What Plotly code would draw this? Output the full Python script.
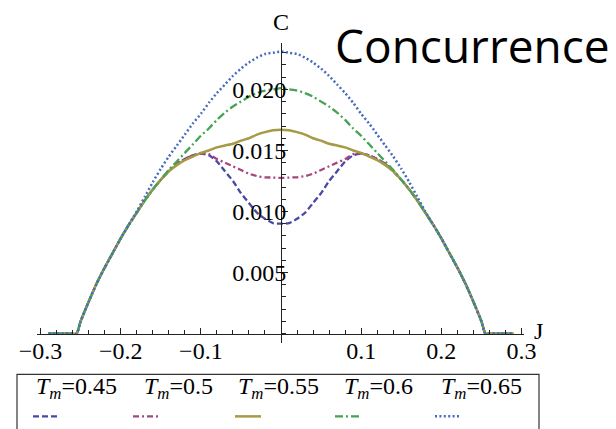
import plotly.graph_objects as go

# ---- data -------------------------------------------------------------
J = [-0.29, -0.28, -0.27, -0.26, -0.255, -0.25, -0.24, -0.23, -0.22, -0.21,
     -0.20, -0.19, -0.18, -0.17, -0.16, -0.15, -0.14, -0.13, -0.12, -0.11,
     -0.10, -0.09, -0.08, -0.07, -0.06, -0.05, -0.04, -0.03, -0.02, -0.01,
     0.0,
     0.01, 0.02, 0.03, 0.04, 0.05, 0.06, 0.07, 0.08, 0.09, 0.10,
     0.11, 0.12, 0.13, 0.14, 0.15, 0.16, 0.17, 0.18, 0.19, 0.20,
     0.21, 0.22, 0.23, 0.24, 0.25, 0.255, 0.26, 0.27, 0.28, 0.29]

C_045 = [0, 0, 0, 0, 0, 0.0010, 0.0026, 0.0041, 0.0054, 0.0066,
         0.0078, 0.0089, 0.0099, 0.0109, 0.0118, 0.0126, 0.0133, 0.0139, 0.0143, 0.0146,
         0.01475, 0.0146, 0.0141, 0.0133, 0.0125, 0.0115, 0.0107, 0.0099, 0.0094, 0.00905,
         0.0090,
         0.00905, 0.0094, 0.0099, 0.0107, 0.0115, 0.0125, 0.0133, 0.0141, 0.0146, 0.01475,
         0.0146, 0.0143, 0.0139, 0.0133, 0.0126, 0.0118, 0.0109, 0.0099, 0.0089, 0.0078,
         0.0066, 0.0054, 0.0041, 0.0026, 0.0010, 0, 0, 0, 0, 0]

C_050 = [0, 0, 0, 0, 0, 0.0010, 0.0026, 0.0041, 0.0054, 0.0066,
         0.0078, 0.0089, 0.0099, 0.0109, 0.0118, 0.0126, 0.0133, 0.0139, 0.0143, 0.0146,
         0.01475, 0.0147, 0.0143, 0.0140, 0.0137, 0.0134, 0.0131, 0.0129, 0.0128, 0.01278,
         0.01275,
         0.01278, 0.0128, 0.0129, 0.0131, 0.0134, 0.0137, 0.0140, 0.0143, 0.0147, 0.01475,
         0.0146, 0.0143, 0.0139, 0.0133, 0.0126, 0.0118, 0.0109, 0.0099, 0.0089, 0.0078,
         0.0066, 0.0054, 0.0041, 0.0026, 0.0010, 0, 0, 0, 0, 0]

C_055 = [0, 0, 0, 0, 0, 0.0010, 0.0026, 0.0041, 0.0054, 0.0066,
         0.0078, 0.0089, 0.0099, 0.0109, 0.0118, 0.0126, 0.0133, 0.0138, 0.0142, 0.0145,
         0.0148, 0.0150, 0.01525, 0.0154, 0.01555, 0.0158, 0.0160, 0.0163, 0.0165, 0.01665,
         0.0167,
         0.01665, 0.0165, 0.0163, 0.0160, 0.0158, 0.01555, 0.0154, 0.01525, 0.0150, 0.0148,
         0.0145, 0.0142, 0.0138, 0.0133, 0.0126, 0.0118, 0.0109, 0.0099, 0.0089, 0.0078,
         0.0066, 0.0054, 0.0041, 0.0026, 0.0010, 0, 0, 0, 0, 0]

C_060 = [0, 0, 0, 0, 0, 0.0010, 0.0026, 0.0041, 0.0054, 0.0066,
         0.0078, 0.0089, 0.0099, 0.0109, 0.0118, 0.0126, 0.0134, 0.0141, 0.0148, 0.0155,
         0.0162, 0.0168, 0.0175, 0.0181, 0.0186, 0.0190, 0.0194, 0.0197, 0.0199, 0.0200,
         0.0201,
         0.0200, 0.0199, 0.0197, 0.0194, 0.0190, 0.0186, 0.0181, 0.0175, 0.0168, 0.0162,
         0.0155, 0.0148, 0.0141, 0.0134, 0.0126, 0.0118, 0.0109, 0.0099, 0.0089, 0.0078,
         0.0066, 0.0054, 0.0041, 0.0026, 0.0010, 0, 0, 0, 0, 0]

C_065 = [0, 0, 0, 0, 0, 0.0010, 0.0026, 0.0041, 0.0054, 0.0066,
         0.0078, 0.0089, 0.0100, 0.0112, 0.0124, 0.0135, 0.0145, 0.0154, 0.0163, 0.0172,
         0.0180, 0.0189, 0.0197, 0.0204, 0.0211, 0.0217, 0.0222, 0.0226, 0.0229, 0.0230,
         0.0231,
         0.0230, 0.0229, 0.0226, 0.0222, 0.0217, 0.0211, 0.0204, 0.0197, 0.0189, 0.0180,
         0.0172, 0.0163, 0.0154, 0.0145, 0.0135, 0.0124, 0.0112, 0.0100, 0.0089, 0.0078,
         0.0066, 0.0054, 0.0041, 0.0026, 0.0010, 0, 0, 0, 0, 0]

T_LABELS = ["0.45", "0.5", "0.55", "0.6", "0.65"]
SERIES = [C_045, C_050, C_055, C_060, C_065]

X_TICKS = [-0.3, -0.2, -0.1, 0.1, 0.2, 0.3]
X_TICK_TEXT = ["\u22120.3", "\u22120.2", "\u22120.1", "0.1", "0.2", "0.3"]
Y_TICKS = [0.005, 0.010, 0.015, 0.020]
Y_TICK_TEXT = ["0.005", "0.010", "0.015", "0.020"]

# ---- styles -----------------------------------------------------------
COLORS = ["#4848a8", "#a8457e", "#a69a45", "#45a355", "#476cbf"]
DASHES = ["6px,3px", "6px,3px,2px,3px", "solid", "8px,3px,2px,3px", "2px,2.4px"]
WIDTHS = [2.3, 2.3, 2.5, 2.3, 2.5]

W, H = 616, 429
L, R, T, B = 37, 524, 43, 342.7          # plot-area edges in px
X_RANGE = [-0.3044, 0.3031]
Y_RANGE = [-0.00077, 0.0238]
SERIF = "Liberation Serif"
TICK_SIZE = 24


def px_x(px):
    return (px - L) / (R - L)


def px_y(py):
    return (B - py) / (B - T)


fig = go.Figure()
for vals, col, dash, wd in zip(SERIES, COLORS, DASHES, WIDTHS):
    fig.add_trace(go.Scatter(
        x=J, y=vals, mode="lines",
        line=dict(color=col, dash=dash, width=wd, shape="spline", smoothing=0.6),
        showlegend=False, hoverinfo="skip"))

x_pos = (0 - Y_RANGE[0]) / (Y_RANGE[1] - Y_RANGE[0])
y_pos = (0 - X_RANGE[0]) / (X_RANGE[1] - X_RANGE[0])

fig.update_layout(
    width=W, height=H,
    margin=dict(l=L, r=W - R, t=T, b=H - B),
    paper_bgcolor="white", plot_bgcolor="white",
    font=dict(family=SERIF, size=TICK_SIZE, color="black"),
    xaxis=dict(
        range=X_RANGE, anchor="free", position=x_pos,
        showgrid=False, zeroline=False,
        showline=True, linecolor="#222", linewidth=1,
        tickmode="array", tickvals=X_TICKS, ticktext=X_TICK_TEXT,
        ticks="inside", ticklen=6, tickwidth=1, tickcolor="#222",
        ticklabelstandoff=-4,
        minor=dict(tickmode="linear", tick0=0, dtick=0.02, ticks="inside",
                   ticklen=3.5, tickwidth=1, tickcolor="#222"),
        tickfont=dict(family=SERIF, size=TICK_SIZE),
    ),
    yaxis=dict(
        range=Y_RANGE, anchor="free", position=y_pos,
        showgrid=False, zeroline=False,
        showline=True, linecolor="#222", linewidth=1,
        tickmode="array", tickvals=Y_TICKS, ticktext=Y_TICK_TEXT,
        ticks="inside", ticklen=6, tickwidth=1, tickcolor="#222",
        ticklabelstandoff=-10,
        minor=dict(tickmode="linear", tick0=0, dtick=0.001, ticks="inside",
                   ticklen=3.5, tickwidth=1, tickcolor="#222"),
        tickfont=dict(family=SERIF, size=TICK_SIZE),
    ),
)


def label(text, x, y, size, family=SERIF, xanchor="center"):
    return dict(text=text, x=px_x(x), y=px_y(y), xref="paper", yref="paper",
                xanchor=xanchor, yanchor="middle", showarrow=False,
                font=dict(family=family, size=size, color="black"))


annotations = [
    label("C", 281, 22, TICK_SIZE),
    label("J", 538, 331, TICK_SIZE),
    label("Concurrence", 472, 45, 46, family="Comic Sans MS, Open Sans"),
]

# legend box with entries laid out in one row: label above, line sample below
shapes = [dict(type="rect", xref="paper", yref="paper",
               x0=px_x(17), x1=px_x(539), y0=px_y(445), y1=px_y(374),
               line=dict(color="#333", width=1.2), fillcolor="rgba(0,0,0,0)")]
text_left = [34, 142, 236, 342, 439]
sample_left = [33, 133, 235, 335, 435]
for lab, tx, sx, col, dash, wd in zip(T_LABELS, text_left, sample_left, COLORS, DASHES, WIDTHS):
    annotations.append(label("<i>T</i><sub><i>m</i></sub>=" + lab, tx, 388, 24,
                             xanchor="left"))
    shapes.append(dict(type="line", xref="paper", yref="paper",
                       x0=px_x(sx), x1=px_x(sx + 26), y0=px_y(416), y1=px_y(416),
                       line=dict(color=col, dash=dash, width=wd)))

fig.update_layout(annotations=annotations, shapes=shapes)

fig.write_html("out.html")
